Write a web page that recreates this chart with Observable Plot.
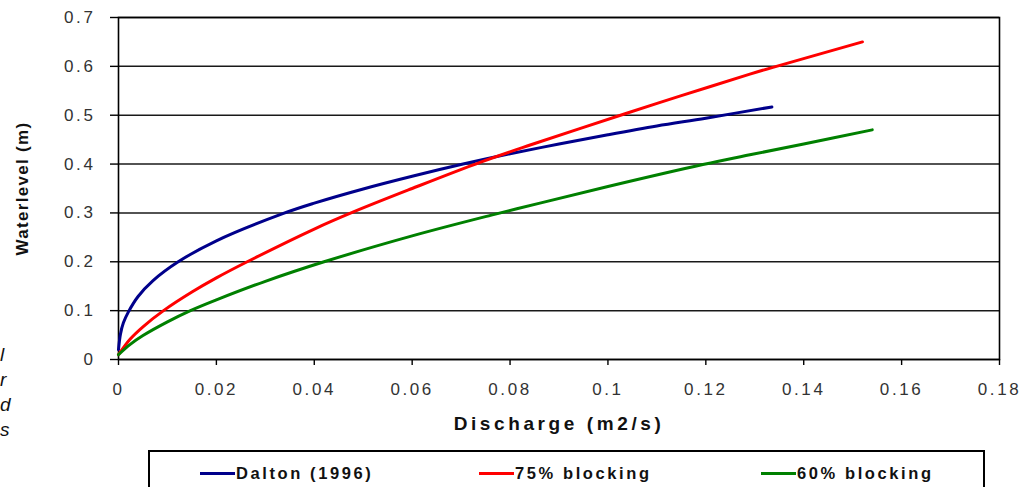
<!DOCTYPE html>
<html>
<head>
<meta charset="utf-8">
<script src="https://cdn.jsdelivr.net/npm/d3@7"></script>
<script src="https://cdn.jsdelivr.net/npm/@observablehq/plot@0.6"></script>
<style>
  html, body { margin: 0; padding: 0; background: #fff; overflow: hidden; }
  #wrap { position: relative; width: 1032px; height: 487px; overflow: hidden; font-family: "Liberation Sans", Arial, sans-serif; }
  #chart svg { display: block; }
  g[aria-label="x-axis tick label"] text, g[aria-label="y-axis tick label"] text { letter-spacing: 2.6px; }
  g[aria-label="x-axis label"] text { font-weight: bold; font-size: 19px; fill: #111; letter-spacing: 3.6px; }
  g[aria-label="y-axis label"] text { font-weight: bold; font-size: 17px; fill: #111; letter-spacing: 1.3px; }
  .frag { position: absolute; left: 0px; font-style: italic; font-size: 19px; color: #111; line-height: 1; }
  #legend { position: absolute; left: 148px; top: 450px; width: 837px; height: 60px; border: 2px solid #000; box-sizing: border-box; background: #fff; }
  .item { position: absolute; top: 11px; height: 20px; display: flex; align-items: center; font-weight: bold; font-size: 16.5px; letter-spacing: 2.6px; color: #111; white-space: nowrap; }
  .swatch { width: 35px; height: 3px; margin-right: 1px; }
</style>
</head>
<body>
<div id="wrap">
  <div id="chart"></div>
  <div id="legend"></div>
</div>
<script>
// ---- data ----
const seriesNames = ["Dalton (1996)", "75% blocking", "60% blocking"];
const seriesColors = ["#00008b", "#ff0000", "#008000"];

const daltonQ = [0, 0.0004, 0.001, 0.002, 0.004, 0.007, 0.0122, 0.02, 0.0337, 0.04, 0.05, 0.06, 0.0704, 0.08, 0.09, 0.1, 0.11, 0.12, 0.1335];
const daltonH = [0.02, 0.052, 0.075, 0.097, 0.129, 0.161, 0.20, 0.243, 0.299, 0.32, 0.349, 0.375, 0.40, 0.421, 0.441, 0.46, 0.478, 0.494, 0.517];

const block75Q = [0, 0.0024, 0.005, 0.0092, 0.015, 0.02, 0.0263, 0.04, 0.048, 0.06, 0.074, 0.0841, 0.1035, 0.115, 0.129, 0.1337, 0.152];
const block75H = [0.01, 0.042, 0.067, 0.10, 0.138, 0.167, 0.20, 0.267, 0.302, 0.35, 0.404, 0.439, 0.503, 0.54, 0.584, 0.598, 0.65];

const block60Q = [0, 0.0024, 0.005, 0.01, 0.0147, 0.02, 0.03, 0.042, 0.06, 0.076, 0.0861, 0.1, 0.1194, 0.129, 0.14, 0.154];
const block60H = [0.01, 0.031, 0.049, 0.077, 0.10, 0.122, 0.16, 0.20, 0.253, 0.295, 0.32, 0.354, 0.399, 0.419, 0.441, 0.47];

const xTicks = [0, 0.02, 0.04, 0.06, 0.08, 0.1, 0.12, 0.14, 0.16, 0.18];
const xTickLabels = ["0", "0.02", "0.04", "0.06", "0.08", "0.1", "0.12", "0.14", "0.16", "0.18"];
const yTicks = [0, 0.1, 0.2, 0.3, 0.4, 0.5, 0.6, 0.7];
const yTickLabels = ["0", "0.1", "0.2", "0.3", "0.4", "0.5", "0.6", "0.7"];
const xTitle = "Discharge (m2/s)";
const yTitle = "Waterlevel (m)";
const leftFragments = ["l", "r", "d", "s"];

// ---- build table ----
const seriesQ = [daltonQ, block75Q, block60Q];
const seriesH = [daltonH, block75H, block60H];
const rows = [];
seriesNames.forEach((name, s) => {
  seriesQ[s].forEach((q, i) => rows.push({series: name, q, h: seriesH[s][i]}));
});

const chart = Plot.plot({
  width: 1032,
  height: 450,
  marginLeft: 118,
  marginRight: 33,
  marginTop: 17,
  marginBottom: 91,
  style: {fontFamily: "'Liberation Sans', Arial, sans-serif", background: "transparent", overflow: "visible"},
  x: {domain: [0, 0.18]},
  y: {domain: [0, 0.7]},
  color: {domain: seriesNames, range: seriesColors},
  marks: [
    Plot.gridY(yTicks, {stroke: "#000", strokeOpacity: 0.9, strokeWidth: 1.5}),
    Plot.frame({stroke: "#000", strokeWidth: 1.6}),
    Plot.axisY(yTicks, {
      tickSize: 8, tickPadding: 15, fontSize: 17, fill: "#333", stroke: "#000", strokeWidth: 1.4,
      tickFormat: d => yTickLabels[yTicks.indexOf(d)],
      label: yTitle, labelAnchor: "center", labelArrow: "none", labelOffset: 103
    }),
    Plot.axisX(xTicks, {
      tickSize: 6, tickPadding: 17, fontSize: 17, fill: "#333", stroke: "#000", strokeWidth: 1.4,
      tickFormat: d => xTickLabels[xTicks.indexOf(d)],
      label: xTitle, labelAnchor: "center", labelArrow: "none", labelOffset: 70
    }),
    Plot.line(rows, {x: "q", y: "h", z: "series", stroke: "series", strokeWidth: 3, curve: "catmull-rom"})
  ]
});
document.getElementById("chart").appendChild(chart);

// ---- legend ----
const legend = document.getElementById("legend");
const itemLeft = [50, 329, 611];
seriesNames.forEach((name, i) => {
  const it = document.createElement("div");
  it.className = "item";
  it.style.left = itemLeft[i] + "px";
  const sw = document.createElement("span");
  sw.className = "swatch";
  sw.style.background = seriesColors[i];
  const tx = document.createElement("span");
  tx.textContent = name;
  it.appendChild(sw);
  it.appendChild(tx);
  legend.appendChild(it);
});

// ---- clipped text fragments on the left edge ----
const wrap = document.getElementById("wrap");
const fragTop = [345, 370, 395, 420];
leftFragments.forEach((t, i) => {
  const sp = document.createElement("span");
  sp.className = "frag";
  sp.style.top = fragTop[i] + "px";
  sp.textContent = t;
  wrap.appendChild(sp);
});
</script>
</body>
</html>
